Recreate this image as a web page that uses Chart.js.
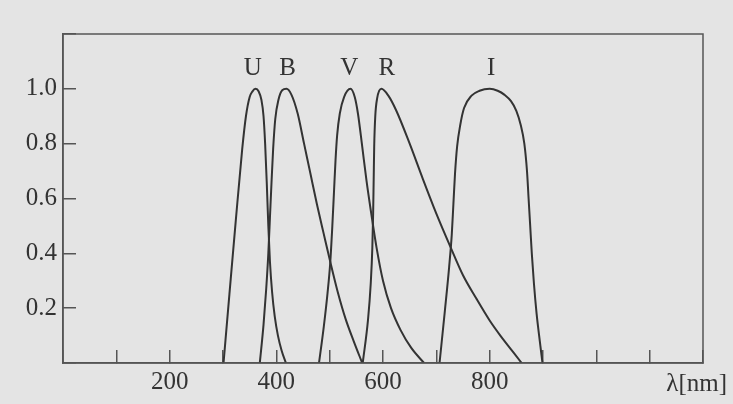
<!DOCTYPE html>
<html>
<head>
<meta charset="utf-8">
<title>UBVRI filter curves</title>
<script src="https://cdn.jsdelivr.net/npm/chart.js@4/dist/chart.umd.min.js"></script>
<style>
    html, body { margin: 0; padding: 0; background: #e4e4e4; }
    #wrap { width: 733px; height: 404px; }
</style>
</head>
<body>
<div id="wrap"><canvas id="filterChart" width="733" height="404"></canvas></div>
<script>
// Data (wavelength in nm, relative transmission)
const uNm = [301, 312, 324, 336, 343, 350, 355, 361, 367, 372, 376, 379, 382, 385, 388, 392, 397, 403, 410, 418];
const uVal = [0, 0.25, 0.52, 0.78, 0.90, 0.97, 0.99, 1.0, 0.99, 0.96, 0.90, 0.80, 0.66, 0.50, 0.37, 0.26, 0.17, 0.10, 0.045, 0];

const bNm = [369, 376, 381, 385, 388, 391, 394, 398, 404, 411, 419, 428, 440, 452, 464, 476, 489, 501, 515, 530, 545, 561];
const bVal = [0, 0.14, 0.27, 0.40, 0.53, 0.66, 0.78, 0.89, 0.96, 0.995, 1.0, 0.98, 0.91, 0.80, 0.69, 0.58, 0.47, 0.37, 0.26, 0.16, 0.08, 0];

const vNm = [480, 489, 496, 501, 505, 508, 511, 514, 519, 527, 539, 547, 553, 561, 569, 578, 588, 600, 615, 633, 653, 677];
const vVal = [0, 0.133, 0.255, 0.364, 0.50, 0.62, 0.74, 0.83, 0.91, 0.97, 1.0, 0.97, 0.91, 0.79, 0.666, 0.545, 0.42, 0.30, 0.20, 0.12, 0.055, 0];

const rNm = [562, 572, 577, 580, 581.5, 582.5, 583.5, 585.5, 589, 597, 610, 625, 650, 675, 700, 725, 750, 775, 800, 820, 840, 860];
const rVal = [0, 0.16, 0.29, 0.42, 0.545, 0.666, 0.79, 0.90, 0.965, 1.0, 0.975, 0.92, 0.80, 0.67, 0.545, 0.43, 0.32, 0.235, 0.155, 0.10, 0.05, 0];

const iNm = [706, 716, 724, 729, 732, 735, 739, 745, 752, 766, 781, 800, 815, 828, 840, 850, 858, 865, 870, 873, 876, 879, 883, 888, 894, 899];
const iVal = [0, 0.19, 0.35, 0.47, 0.58, 0.69, 0.79, 0.87, 0.93, 0.975, 0.993, 1.0, 0.993, 0.978, 0.955, 0.92, 0.87, 0.80, 0.70, 0.60, 0.50, 0.40, 0.29, 0.18, 0.08, 0];

const bandNames = ["U", "B", "V", "R", "I"];
const bandLabelNm = [356, 421, 537, 607, 803];
const bandLabelLevel = 1.05;

const xLabeled = [200, 400, 600, 800];
const yLabeled = [0.2, 0.4, 0.6, 0.8, 1.0];

const axisColor = "#555";
const lineColor = "#333";
const textColor = "#333";
const serif = "'Liberation Serif', 'Times New Roman', serif";

function toPoints(xs, ys) {
    return xs.map((x, i) => ({ x: x, y: ys[i] }));
}

const curves = [
    toPoints(uNm, uVal),
    toPoints(bNm, bVal),
    toPoints(vNm, vVal),
    toPoints(rNm, rVal),
    toPoints(iNm, iVal),
];

// Frame, band letters and unit label
const framePlugin = {
    id: "frame",
    afterDraw(chart) {
        const { ctx, chartArea: a, scales } = chart;
        ctx.save();
        ctx.strokeStyle = axisColor;
        ctx.lineWidth = 1.5;
        ctx.strokeRect(a.left, a.top, a.right - a.left, a.bottom - a.top);

        ctx.fillStyle = textColor;
        ctx.font = "25px " + serif;
        ctx.textAlign = "center";
        ctx.textBaseline = "alphabetic";
        bandNames.forEach((name, i) => {
            ctx.fillText(
                name,
                scales.x.getPixelForValue(bandLabelNm[i]),
                scales.y.getPixelForValue(bandLabelLevel)
            );
        });

        ctx.textAlign = "right";
        ctx.fillText("λ[nm]", a.right + 24, a.bottom + 28);
        ctx.restore();
    },
};

const ctx = document.getElementById("filterChart").getContext("2d");
const filterChart = new Chart(ctx, {
    type: "line",
    data: {
        datasets: curves.map((pts, i) => ({
            label: bandNames[i],
            data: pts,
            borderColor: lineColor,
            borderWidth: 2,
            pointRadius: 0,
            fill: false,
            cubicInterpolationMode: "monotone",
        })),
    },
    options: {
        responsive: false,
        animation: false,
        layout: {
            padding: { top: 33, right: 30, left: 0, bottom: 0 },
        },
        plugins: {
            legend: { display: false },
            tooltip: { enabled: false },
        },
        scales: {
            x: {
                type: "linear",
                min: 0,
                max: 1200,
                afterFit(scale) {
                    scale.height = 41;
                },
                border: { display: true, color: axisColor, width: 1.5 },
                grid: {
                    drawOnChartArea: false,
                    drawTicks: true,
                    tickLength: -13,
                    color: axisColor,
                    lineWidth: 1.5,
                },
                ticks: {
                    stepSize: 100,
                    autoSkip: false,
                    maxRotation: 0,
                    padding: 17,
                    color: textColor,
                    font: { family: serif, size: 25 },
                    callback: (v) => (xLabeled.includes(v) ? String(v) : ""),
                },
            },
            y: {
                min: 0,
                max: 1.2,
                afterFit(scale) {
                    scale.width = 63;
                },
                border: { display: true, color: axisColor, width: 1.5 },
                grid: {
                    drawOnChartArea: false,
                    drawTicks: true,
                    tickLength: -13,
                    color: axisColor,
                    lineWidth: 1.5,
                },
                ticks: {
                    stepSize: 0.2,
                    padding: 19,
                    color: textColor,
                    font: { family: serif, size: 25 },
                    callback: (v) => {
                        const r = Math.round(v * 10) / 10;
                        return yLabeled.includes(r) ? r.toFixed(1) : "";
                    },
                },
            },
        },
    },
    plugins: [framePlugin],
});
</script>
</body>
</html>
